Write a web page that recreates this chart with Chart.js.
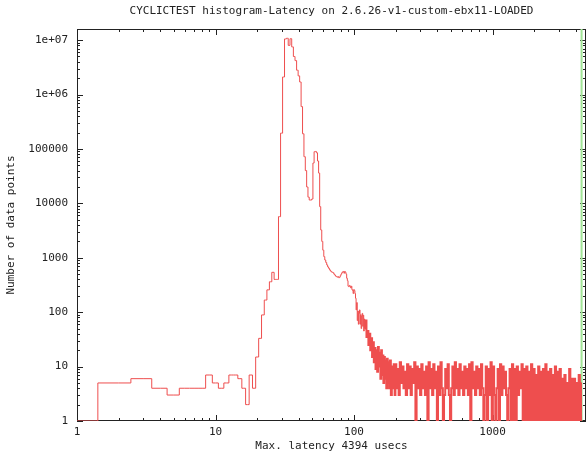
<!DOCTYPE html>
<html lang="en">
<head>
<meta charset="UTF-8">
<title>CYCLICTEST histogram</title>
<script src="https://cdn.jsdelivr.net/npm/chart.js@4"></script>
<style>
  body { margin: 0; background: #fff; }
  canvas { display: block; }
</style>
</head>
<body>
<canvas id="histChart" width="587" height="455"></canvas>
<script>
// Histogram bins (latency in usecs) and number of samples per bin
const coreLatency = [
  1, 2, 3, 4, 5, 6, 7, 8, 9, 10,
  11, 12, 13, 14, 15, 16, 17, 18, 19, 20,
  21, 22, 23, 24, 25, 26, 27, 28, 29, 30,
  31, 32, 33, 34, 35, 36, 37, 38, 39, 40,
  41, 42, 43, 44, 45, 46, 47, 48, 49, 50,
  51, 52, 53, 54, 55, 56, 57, 58, 59, 60,
  61, 62, 63, 64, 65, 66, 67, 68, 69, 70,
  71, 72, 73, 74, 75, 76, 77, 78, 79, 80,
  81, 82, 83, 84, 85, 86, 87, 88, 89, 90,
  91, 92, 93, 94, 95, 96, 97, 98, 99, 100
];
const coreCounts = [
  1, 5, 6, 4, 3, 4, 4, 4, 7, 5,
  4, 5, 7, 7, 6, 4, 2, 7, 4, 15,
  33, 89, 167, 257, 362, 540, 400, 400, 5700, 195000,
  2100000, 10500000, 10800000, 8000000, 10600000, 7500000, 5000000, 4200000, 2800000, 2200000,
  1700000, 600000, 190000, 72000, 40000, 20000, 13000, 11500, 11500, 12000,
  55000, 89000, 90000, 85000, 60000, 36000, 8700, 3240, 2000, 1380,
  1050, 910, 820, 740, 680, 640, 600, 570, 550, 540,
  530, 500, 480, 460, 450, 440, 450, 430, 440, 470,
  500, 530, 550, 560, 520, 560, 540, 500, 420, 380,
  300, 294, 310, 300, 280, 300, 260, 250, 220, 260
];

// long noisy tail
const tailLatency = [
  101, 102, 103, 104, 105, 106, 107, 108, 109, 110,
  111, 112, 113, 114, 115, 116, 117, 118, 119, 120,
  122, 124, 126, 128, 130, 132, 134, 136, 138, 140,
  142, 144, 146, 148, 150, 152, 154, 156, 158, 160,
  162, 164, 166, 168, 170, 172, 174, 176, 178, 180,
  183, 186, 189, 192, 195, 198,
  200, 204, 208, 212, 216, 221, 225, 230, 234, 239,
  244, 249, 254, 259, 264, 269, 275, 280, 286, 292,
  297, 303, 309, 316, 322, 328, 335, 342, 349, 356,
  363, 370, 377, 385, 393, 400, 408, 417, 425, 434,
  442, 451, 460, 469, 479, 488, 498, 508, 518, 529,
  539, 550, 561, 572, 584, 595, 607, 619, 632, 644,
  657, 670, 684, 697, 711, 726, 740, 755, 770, 786,
  801, 817, 834, 850, 867, 885, 902, 920, 939, 958,
  977, 996, 1016, 1037, 1057, 1078, 1100, 1122, 1144, 1167,
  1191, 1215, 1239, 1264, 1289, 1315, 1341, 1368, 1395, 1423,
  1452, 1481, 1510, 1541, 1571, 1603, 1635, 1668, 1701, 1735,
  1770, 1805, 1841, 1878, 1916, 1954, 1993, 2033, 2074, 2115,
  2157, 2201, 2245, 2290, 2335, 2382, 2430, 2478, 2528, 2578,
  2630, 2683, 2736, 2791, 2847, 2904, 2962, 3021, 3081, 3143,
  3206, 3270, 3335, 3402, 3470, 3540, 3610, 3683, 3756, 3831,
  3908, 3986, 4066, 4147, 4230, 4315, 4394
];
const tailCounts = [
  250, 220, 180, 110, 150, 70, 105, 60, 95, 110,
  60, 90, 50, 85, 95, 55, 88, 45, 75, 50,
  70, 35, 45, 25, 40, 20, 33, 15, 28, 12,
  22, 9, 20, 8, 23, 10, 18, 6, 20, 7,
  16, 5, 15, 6, 13, 4, 14, 5, 12, 4,
  13, 3, 10, 4, 11, 3,
  11, 4, 9, 3, 12, 5, 10, 4, 8, 3,
  11, 4, 10, 3, 9, 5, 12, 1, 10, 4,
  9, 3, 11, 4, 8, 3, 10, 1, 12, 4,
  9, 3, 11, 4, 8, 1, 10, 3, 12, 4,
  1, 3, 9, 4, 11, 3, 1, 4, 10, 3,
  12, 4, 9, 3, 11, 4, 8, 3, 10, 4,
  9, 3, 11, 1, 12, 4, 8, 3, 10, 4,
  9, 3, 11, 4, 1, 3, 10, 1, 9, 3,
  12, 1, 10, 3, 1, 4, 9, 1, 11, 3,
  10, 4, 8, 3, 1, 4, 9, 1, 11, 1,
  9, 1, 10, 3, 8, 4, 11, 1, 9, 1,
  10, 1, 8, 1, 11, 1, 9, 1, 7, 1,
  10, 1, 8, 1, 9, 1, 11, 1, 8, 1,
  9, 1, 7, 1, 10, 1, 8, 1, 9, 1,
  6, 1, 7, 1, 5, 1, 9, 1, 6, 1,
  6, 1, 5, 1, 7, 1, 5
];

const maxLatency = 4394;

const xTickValues = [1, 10, 100, 1000];
const xTickLabels = ['1', '10', '100', '1000'];
const yTickValues = [1, 10, 100, 1000, 10000, 100000, 1000000, 10000000];
const yTickLabels = ['1', '10', '100', '1000', '10000', '100000', '1e+06', '1e+07'];

const chartTitle = 'CYCLICTEST histogram-Latency on 2.6.26-v1-custom-ebx11-LOADED';
const xTitle = 'Max. latency 4394 usecs';
const yTitle = 'Number of data points';

const xMax = 4730;
const yMax = 16000000;

const textColor = '#222';
const lineColor = 'rgb(238,78,78)';
const monoFont = { family: '"DejaVu Sans Mono", monospace', size: 11 };

// build the point list
const latency = coreLatency.concat(tailLatency);
const counts = coreCounts.concat(tailCounts);
const histPoints = latency.map((x, i) => ({ x: x, y: counts[i] }));

// gnuplot style border with inward ticks on all four sides, and a centred title
const gnuplotFrame = {
  id: 'gnuplotFrame',
  beforeDatasetsDraw(chart) {
    const { ctx, chartArea: a, scales } = chart;
    const x = scales.x;
    const y = scales.y;
    ctx.save();
    ctx.strokeStyle = '#222';
    ctx.lineWidth = 1;
    ctx.beginPath();
    for (let d = 0; d <= 3; d++) {
      for (let m = 1; m <= 9; m++) {
        const v = m * Math.pow(10, d);
        if (v > x.max) break;
        const px = Math.round(x.getPixelForValue(v)) + 0.5;
        const len = m === 1 ? 6 : 3;
        ctx.moveTo(px, a.bottom);
        ctx.lineTo(px, a.bottom - len);
        ctx.moveTo(px, a.top);
        ctx.lineTo(px, a.top + len);
      }
    }
    for (let d = 0; d <= 7; d++) {
      for (let m = 1; m <= 9; m++) {
        const v = m * Math.pow(10, d);
        if (v > y.max) break;
        const py = Math.round(y.getPixelForValue(v)) + 0.5;
        const len = m === 1 ? 6 : 3;
        ctx.moveTo(a.left, py);
        ctx.lineTo(a.left + len, py);
        ctx.moveTo(a.right, py);
        ctx.lineTo(a.right - len, py);
      }
    }
    ctx.stroke();
    ctx.strokeRect(a.left + 0.5, a.top + 0.5, a.right - a.left - 1, a.bottom - a.top - 1);
    ctx.restore();
  },
  afterDraw(chart) {
    const { ctx, chartArea: a } = chart;
    ctx.save();
    ctx.fillStyle = textColor;
    ctx.font = monoFont.size + 'px ' + monoFont.family;
    ctx.textAlign = 'center';
    ctx.textBaseline = 'middle';
    ctx.fillText(chartTitle, (a.left + a.right) / 2, 11);
    ctx.restore();
  }
};

new Chart(document.getElementById('histChart'), {
  type: 'line',
  data: {
    datasets: [
      {
        label: 'Latency',
        data: histPoints,
        borderColor: lineColor,
        borderWidth: 1,
        pointRadius: 0,
        stepped: 'middle',
        fill: false,
        // the dense noisy tail reads as a solid band in the original
        segment: {
          borderWidth: (ctx) => (ctx.p0.parsed.x >= 120 ? 2 : 1)
        }
      },
      {
        label: 'Max latency',
        data: [{ x: maxLatency, y: 1 }, { x: maxLatency, y: yMax }],
        borderColor: 'rgb(160,228,150)',
        borderWidth: 2,
        pointRadius: 0,
        fill: false
      }
    ]
  },
  options: {
    responsive: false,
    animation: false,
    events: [],
    layout: { padding: { top: 29, right: 1, left: 0, bottom: 0 } },
    plugins: {
      legend: { display: false },
      title: { display: false },
      tooltip: { enabled: false }
    },
    scales: {
      x: {
        type: 'logarithmic',
        position: 'bottom',
        min: 1,
        max: xMax,
        grid: { display: false, drawTicks: false },
        border: { display: false },
        ticks: {
          color: textColor,
          font: monoFont,
          padding: 5,
          maxRotation: 0,
          autoSkip: false,
          callback: (v, i) => xTickLabels[i]
        },
        afterBuildTicks: (scale) => {
          scale.ticks = xTickValues.map((v) => ({ value: v }));
        },
        afterFit: (scale) => {
          scale.height = 34;
        },
        title: {
          display: true,
          text: xTitle,
          color: textColor,
          font: monoFont,
          padding: { top: 0, bottom: 2 }
        }
      },
      y: {
        type: 'logarithmic',
        position: 'left',
        min: 1,
        max: yMax,
        grid: { display: false, drawTicks: false },
        border: { display: false },
        ticks: {
          color: textColor,
          font: monoFont,
          padding: 9,
          autoSkip: false,
          callback: (v, i) => yTickLabels[i]
        },
        afterBuildTicks: (scale) => {
          scale.ticks = yTickValues.map((v) => ({ value: v }));
        },
        afterFit: (scale) => {
          scale.width = 77;
        },
        title: {
          display: true,
          text: yTitle,
          color: textColor,
          font: monoFont,
          padding: { top: 5, bottom: 0 }
        }
      }
    }
  },
  plugins: [gnuplotFrame]
});
</script>
</body>
</html>
